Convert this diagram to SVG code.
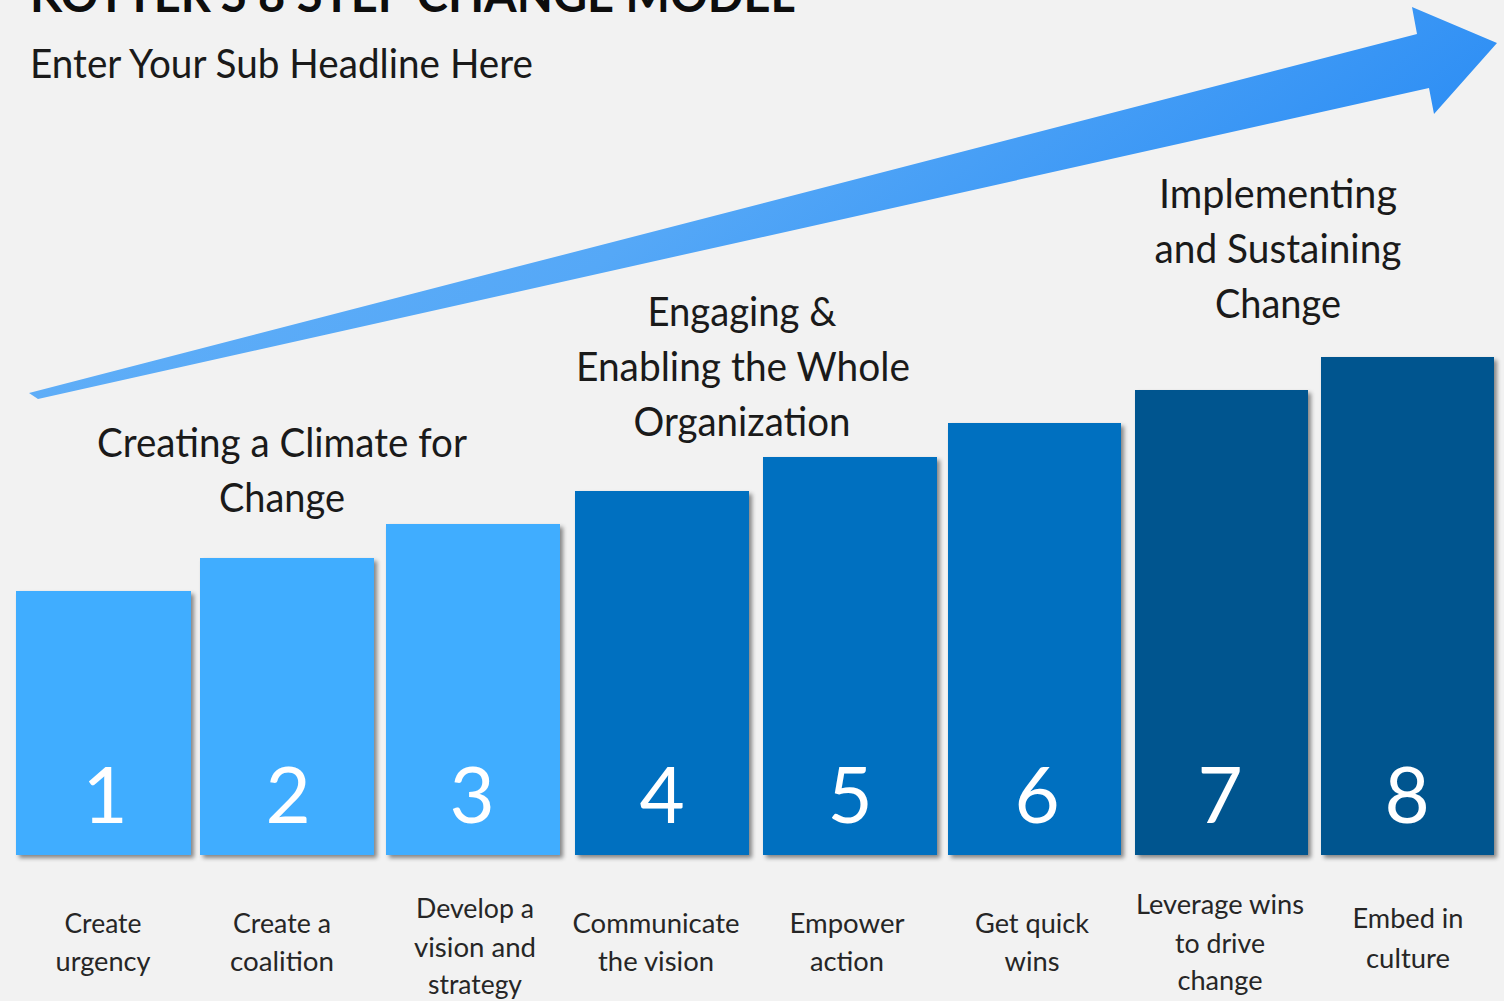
<svg xmlns="http://www.w3.org/2000/svg" width="1504" height="1001" viewBox="0 0 1504 1001">
<defs>
<style>
text{font-family:Lato,"Open Sans","Liberation Sans",sans-serif;}
.title{font-size:48px;font-weight:bold;fill:#0d0d0d;}
.sub{font-size:40px;fill:#1a1a1a;}
.grp{font-size:40px;fill:#1a1a1a;text-anchor:middle;}
.lbl{font-size:27px;fill:#262626;text-anchor:middle;}
.num{font-size:78px;fill:#ffffff;text-anchor:middle;}
.l1{fill:#41ADFF;}
.l2{fill:#0070C0;}
.l3{fill:#01548F;}
</style>
<filter id="sh" x="-10%" y="-10%" width="130%" height="130%">
<feDropShadow dx="3" dy="3" stdDeviation="2" flood-color="#000" flood-opacity="0.45"/>
</filter>
<linearGradient id="ag" x1="0" y1="0" x2="1" y2="0.35">
<stop offset="0" stop-color="#6AB4F8"/>
<stop offset="0.55" stop-color="#55A8F7"/>
<stop offset="1" stop-color="#2A8CF4"/>
</linearGradient>
</defs>
<rect width="1504" height="1001" fill="#F2F2F2"/>

<g id="title">
<text class="title" x="30" y="12" textLength="765" lengthAdjust="spacingAndGlyphs">KOTTER'S 8 STEP CHANGE MODEL</text>
<text class="sub" x="30" y="78" textLength="503" lengthAdjust="spacingAndGlyphs">Enter Your Sub Headline Here</text>
</g>

<g id="connectors">
<polygon id="growth-arrow" points="29,393 1417,34 1412,7 1497,43 1434,114 1429,88 38,399" fill="url(#ag)"/>
</g>

<g id="group-climate">
<text class="grp" x="282" y="457" textLength="370" lengthAdjust="spacingAndGlyphs">Creating a Climate for</text>
<text class="grp" x="282" y="512" textLength="126" lengthAdjust="spacingAndGlyphs">Change</text>
</g>
<g id="group-engaging">
<text class="grp" x="742" y="326" textLength="189" lengthAdjust="spacingAndGlyphs">Engaging &amp;</text>
<text class="grp" x="743" y="381" textLength="334" lengthAdjust="spacingAndGlyphs">Enabling the Whole</text>
<text class="grp" x="742" y="436" textLength="217" lengthAdjust="spacingAndGlyphs">Organization</text>
</g>
<g id="group-implementing">
<text class="grp" x="1278" y="208" textLength="238" lengthAdjust="spacingAndGlyphs">Implementing</text>
<text class="grp" x="1278" y="263" textLength="247" lengthAdjust="spacingAndGlyphs">and Sustaining</text>
<text class="grp" x="1278" y="318" textLength="126" lengthAdjust="spacingAndGlyphs">Change</text>
</g>

<g id="step1">
<rect class="l1" x="16" y="591" width="175" height="264" filter="url(#sh)"/>
<text class="num" x="105" y="823">1</text>
<text class="lbl" x="103" y="933" textLength="77" lengthAdjust="spacingAndGlyphs">Create</text>
<text class="lbl" x="103" y="971" textLength="95" lengthAdjust="spacingAndGlyphs">urgency</text>
</g>
<g id="step2">
<rect class="l1" x="200" y="558" width="174" height="297" filter="url(#sh)"/>
<text class="num" x="288" y="823">2</text>
<text class="lbl" x="282" y="933" textLength="98" lengthAdjust="spacingAndGlyphs">Create a</text>
<text class="lbl" x="282" y="971" textLength="104" lengthAdjust="spacingAndGlyphs">coalition</text>
</g>
<g id="step3">
<rect class="l1" x="386" y="524" width="174" height="331" filter="url(#sh)"/>
<text class="num" x="472" y="823">3</text>
<text class="lbl" x="475" y="918" textLength="118" lengthAdjust="spacingAndGlyphs">Develop a</text>
<text class="lbl" x="475" y="957" textLength="122" lengthAdjust="spacingAndGlyphs">vision and</text>
<text class="lbl" x="475" y="994" textLength="94" lengthAdjust="spacingAndGlyphs">strategy</text>
</g>
<g id="step4">
<rect class="l2" x="575" y="491" width="174" height="364" filter="url(#sh)"/>
<text class="num" x="662" y="823">4</text>
<text class="lbl" x="656" y="933" textLength="167" lengthAdjust="spacingAndGlyphs">Communicate</text>
<text class="lbl" x="656" y="971" textLength="116" lengthAdjust="spacingAndGlyphs">the vision</text>
</g>
<g id="step5">
<rect class="l2" x="763" y="457" width="174" height="398" filter="url(#sh)"/>
<text class="num" x="850" y="823">5</text>
<text class="lbl" x="847" y="933" textLength="115" lengthAdjust="spacingAndGlyphs">Empower</text>
<text class="lbl" x="847" y="971" textLength="74" lengthAdjust="spacingAndGlyphs">action</text>
</g>
<g id="step6">
<rect class="l2" x="948" y="423" width="173" height="432" filter="url(#sh)"/>
<text class="num" x="1037" y="823">6</text>
<text class="lbl" x="1032" y="933" textLength="114" lengthAdjust="spacingAndGlyphs">Get quick</text>
<text class="lbl" x="1032" y="971" textLength="55" lengthAdjust="spacingAndGlyphs">wins</text>
</g>
<g id="step7">
<rect class="l3" x="1135" y="390" width="173" height="465" filter="url(#sh)"/>
<text class="num" x="1220" y="823">7</text>
<text class="lbl" x="1220" y="914" textLength="168" lengthAdjust="spacingAndGlyphs">Leverage wins</text>
<text class="lbl" x="1220" y="953" textLength="90" lengthAdjust="spacingAndGlyphs">to drive</text>
<text class="lbl" x="1220" y="990" textLength="85" lengthAdjust="spacingAndGlyphs">change</text>
</g>
<g id="step8">
<rect class="l3" x="1321" y="357" width="173" height="498" filter="url(#sh)"/>
<text class="num" x="1407" y="823">8</text>
<text class="lbl" x="1408" y="928" textLength="111" lengthAdjust="spacingAndGlyphs">Embed in</text>
<text class="lbl" x="1408" y="968" textLength="84" lengthAdjust="spacingAndGlyphs">culture</text>
</g>
</svg>
